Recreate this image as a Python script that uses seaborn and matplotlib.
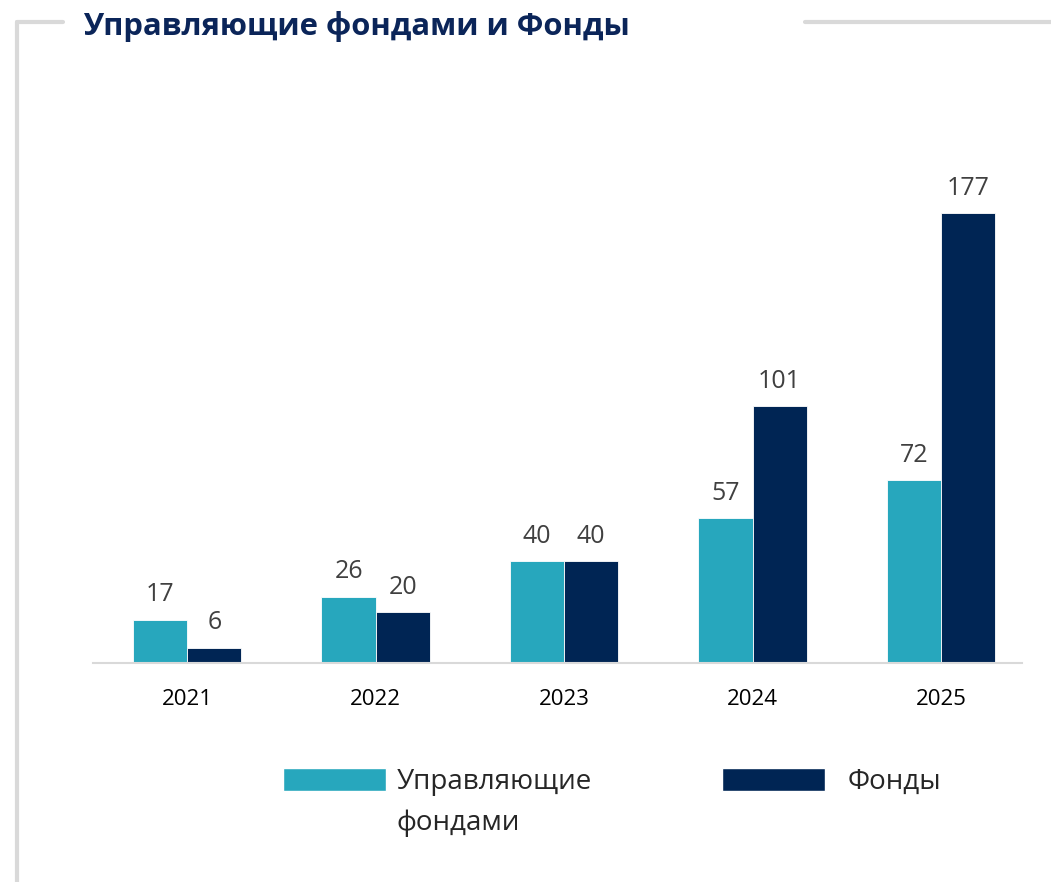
import matplotlib
matplotlib.use("Agg")
import matplotlib.pyplot as plt
import matplotlib.patches as mpatches
import pandas as pd
import seaborn as sns
from matplotlib.legend_handler import HandlerPatch
from matplotlib.lines import Line2D

years = ["2021", "2022", "2023", "2024", "2025"]
managers = [17, 26, 40, 57, 72]
funds = [6, 20, 40, 101, 177]
series_names = ["Управляющие\nфондами", "Фонды"]
title = "Управляющие фондами и Фонды"

df = pd.DataFrame({
    "Год": years * 2,
    "Значение": managers + funds,
    "Серия": [series_names[0]] * len(years) + [series_names[1]] * len(years),
})

sns.set_style("white")
plt.rcParams["font.family"] = ["Open Sans", "DejaVu Sans"]

W, H = 1051, 882
fig = plt.figure(figsize=(W / 100, H / 100), dpi=100)
ax = fig.add_axes([93 / W, 219 / H, 929 / W, 0.576])

sns.barplot(
    data=df, x="Год", y="Значение", hue="Серия",
    palette=["#27A7BD", "#002554"], saturation=1,
    width=0.575, edgecolor="white", linewidth=0.6,
    ax=ax,
)

for c in ax.containers:
    ax.bar_label(c, padding=9, fontsize=18, color="#404040")

ax.set_xlim(-0.5, 4.43)
ax.set_ylim(0, 200)
ax.set_xlabel("")
ax.set_ylabel("")
ax.set_yticks([])
ax.tick_params(axis="x", length=0, labelsize=16, pad=19, colors="black")
for s in ["top", "right", "left"]:
    ax.spines[s].set_visible(False)
ax.spines["bottom"].set_color("#D9D9D9")
ax.spines["bottom"].set_linewidth(1.5)

# legend: two separate entries, handle aligned with first text line
colors = [c.patches[0].get_facecolor() for c in ax.containers]
ax.get_legend().remove()


def top_patch(shift):
    def make(legend, orig_handle, xdescent, ydescent, width, height, fontsize):
        return mpatches.Rectangle((-xdescent, -ydescent + shift), width, height)
    return make


leg_kw = dict(frameon=False, fontsize=20, handlelength=3.7, handleheight=0.86,
              borderpad=0, borderaxespad=0, loc="upper left")

h1 = mpatches.Patch(facecolor=colors[0])
leg1 = fig.legend([h1], [series_names[0]], bbox_to_anchor=(283 / W, 1 - 768 / H),
                  handler_map={h1: HandlerPatch(patch_func=top_patch(17))},
                  handletextpad=0.4, **leg_kw)
for t in leg1.get_texts():
    t.set_linespacing(1.6)

h2 = mpatches.Patch(facecolor=colors[1])
leg2 = fig.legend([h2], [series_names[1]], bbox_to_anchor=(722 / W, 1 - 768 / H),
                  handletextpad=0.82, **leg_kw)

fig.text(83 / W, 1 - 35.5 / H, title, fontsize=22.3, fontweight="bold", color="#0B2559",
         va="baseline", ha="left")

# frame lines around the panel
grey = "#D9D9D9"
fig.add_artist(Line2D([17 / W, 63 / W], [1 - 22 / H, 1 - 22 / H], color=grey, lw=3))
fig.add_artist(Line2D([805 / W, 1.0], [1 - 22 / H, 1 - 22 / H], color=grey, lw=3))
fig.add_artist(Line2D([17 / W, 17 / W], [1 - 22 / H, 0], color=grey, lw=3))

fig.savefig("out.png", dpi=100)
